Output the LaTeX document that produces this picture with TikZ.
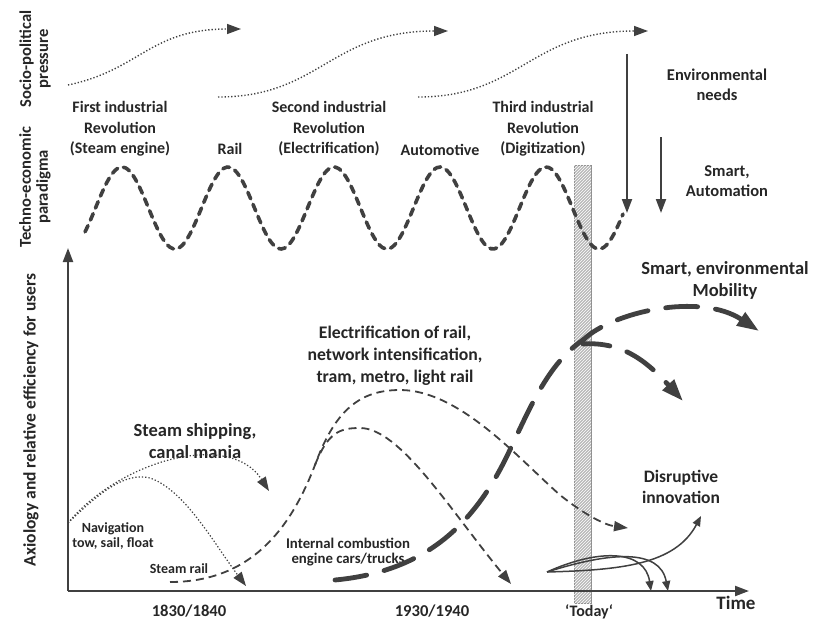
\documentclass[tikz,border=0pt]{standalone}
\usepackage{fontspec}
\setmainfont{Carlito}
\usetikzlibrary{arrows.meta,patterns}

\begin{document}
\begin{tikzpicture}[x=1pt, y=-1pt,
    testo/.style={font=\bfseries\fontsize{16}{20.5}\selectfont, align=center, text=black!85},
    grande/.style={font=\bfseries\fontsize{18}{22}\selectfont, align=center, text=black!85},
    lato/.style={font=\bfseries\fontsize{16.6}{17}\selectfont, align=center, text=black!85},
    piccolo/.style={font=\bfseries\fontsize{14}{15.5}\selectfont, align=center, text=black!85},
    punta/.style={-{Triangle[length=14pt, width=10pt]}},
    puntina/.style={-{Triangle[length=10pt, width=8pt]}},
    puntone/.style={-{Triangle[length=22pt, width=15pt]}},
    punti/.style={draw=black!75, line width=1.4pt, dash pattern=on 1.3pt off 2pt},
    tratti/.style={draw=black!75, line width=1.8pt, dash pattern=on 8pt off 5pt},
    onda/.style={draw=black!75, line width=3.6pt, dash pattern=on 7pt off 6pt, line cap=round},
    lunghi/.style={draw=black!75, line width=4.8pt, dash pattern=on 32pt off 18pt, line cap=round},
    pieno/.style={draw=black!75, line width=1.5pt}]
    \useasboundingbox (0,0) rectangle (813,623);

    % Barra di oggi
    \draw[draw=black!45, line width=1pt, fill=gray!55, postaction={pattern=north east lines, pattern color=white}]
        (574,165) rectangle (591,603);

    % Etichette
    \node[lato, rotate=90] (socio) at (35,59) {Socio-political\\pressure};
    \node[lato, rotate=90] (tecno) at (35,187) {Techno-economic\\paradigma};
    \node[lato, font=\bfseries\fontsize{17.5}{17}\selectfont, rotate=90] (assio) at (31,420) {Axiology and relative efficiency for users};
    \node[testo] (primo) at (120,129) {First industrial\\Revolution\\(Steam engine)};
    \node[testo] (rotaia) at (230,149) {Rail};
    \node[testo] (secondo) at (329,129) {Second industrial\\Revolution\\(Electrification)};
    \node[testo] (auto) at (440,150) {Automotive};
    \node[testo] (terzo) at (543,129) {Third industrial\\Revolution\\(Digitization)};
    \node[testo, font=\bfseries\fontsize{16.5}{19.5}\selectfont] (ambiente) at (717,85) {Environmental\\needs};
    \node[testo, font=\bfseries\fontsize{16.5}{19.5}\selectfont] (smart) at (727,181) {Smart,\\Automation};
    \node[grande, font=\bfseries\fontsize{18.5}{22}\selectfont] (vapore) at (195,441) {Steam shipping,\\canal mania};
    \node[piccolo] (navig) at (113,536) {Navigation\\tow, sail, float};
    \node[piccolo] (ferro) at (179,569) {Steam rail};
    \node[piccolo, font=\bfseries\fontsize{14.8}{15.5}\selectfont] (combu) at (348,552) {Internal combustion\\engine cars/trucks};
    \node[grande, font=\bfseries\fontsize{17.7}{22}\selectfont] (elettr) at (395,356) {Electrification of rail,\\network intensification,\\tram, metro, light rail};
    \node[grande, font=\bfseries\fontsize{18.5}{22}\selectfont] (mobil) at (725,280) {Smart, environmental\\Mobility};
    \node[grande, font=\bfseries\fontsize{17.5}{21}\selectfont] (disrupt) at (681,487) {Disruptive\\innovation};
    \node[lato] (anno1) at (189,611) {1830/1840};
    \node[lato] (anno2) at (432,611) {1930/1940};
    \node[testo] (oggi) at (589,612) {‘Today‘};
    \node[grande, font=\bfseries\fontsize{19}{22}\selectfont] (tempo) at (736,603) {Time};

    % Assi
    \coordinate (orig) at (68,591);
    \coordinate (ytop) at (68,248);
    \coordinate (xend) at (749,591);
    \draw[draw=black!75, line width=2.2pt, punta] (orig) -- (ytop);
    \draw[draw=black!75, line width=2.2pt, punta] (orig) -- (xend);

    % Pressione socio-politica
    \coordinate (s1a) at (68,85);   \coordinate (s1b) at (241,29);
    \coordinate (s2a) at (218,97);  \coordinate (s2b) at (448,31);
    \coordinate (s3a) at (418,97);  \coordinate (s3b) at (648,31);
    \draw[punti, punta] (s1a) .. controls (140,70) and (150,29) .. (s1b);
    \draw[punti, punta] (s2a) .. controls (320,97) and (330,31) .. (s2b);
    \draw[punti, punta] (s3a) .. controls (520,97) and (530,31) .. (s3b);

    % Paradigma
    \draw[onda] plot[domain=85:623, samples=160, smooth] (\x, {208-41*sin(((\x-95.5)/106)*360)});
    \coordinate (e1) at (627,54);  \coordinate (e2) at (627,213);
    \coordinate (a1) at (661,137); \coordinate (a2) at (661,213);
    \draw[pieno, line width=2pt, punta] (e1) -- (e2);
    \draw[pieno, line width=2pt, punta] (a1) -- (a2);

    % Navigazione
    \coordinate (nav) at (68,523);
    \coordinate (navA) at (269,491);
    \coordinate (navB) at (246,586);
    \draw[punti, line width=1.2pt, punta] (nav) .. controls (120,460) and (230,430) .. (navA);
    \draw[punti, line width=1.2pt, punta] (nav) .. controls (100,492) and (125,472) .. (150,478)
        .. controls (185,490) and (215,545) .. (navB);

    % Ferrovia
    \coordinate (fa) at (170,582);
    \coordinate (fb) at (315,465);
    \coordinate (fc) at (628,528);
    \coordinate (fd) at (511,584);
    \draw[tratti, punta] (fa) .. controls (250,582) and (290,530) .. (fb)
        .. controls (335,410) and (360,390) .. (400,390)
        .. controls (460,390) and (520,460) .. (560,495)
        .. controls (585,515) and (605,525) .. (fc);
    \draw[tratti, punta] (fb) .. controls (328,432) and (340,428) .. (360,428)
        .. controls (400,428) and (450,510) .. (fd);

    % Combustione
    \coordinate (ca) at (335,580);
    \coordinate (cb) at (583,340);
    \coordinate (cc) at (759,331);
    \coordinate (cd) at (683,401);
    \draw[lunghi] (ca) .. controls (420,572) and (470,530) .. (505,460)
        .. controls (525,420) and (545,365) .. (cb);
    \draw[lunghi, dash phase=10pt, puntone] (cb) .. controls (612,312) and (700,292) .. (cc);
    \draw[lunghi, dash phase=5pt, puntone] ([yshift=-4pt]cb) .. controls (625,341) and (650,365) .. (cd);

    % Innovazione
    \coordinate (ia) at (547,572);
    \coordinate (ib) at (701,516);
    \coordinate (ic) at (651,591);
    \coordinate (id) at (668,591);
    \draw[pieno, puntina] (ia) .. controls (600,548) and (645,550) .. (ic);
    \draw[pieno, puntina] (ia) .. controls (610,552) and (660,548) .. (id);
    \draw[pieno, puntina] (ia) .. controls (620,570) and (675,565) .. (ib);
\end{tikzpicture}
\end{document}
